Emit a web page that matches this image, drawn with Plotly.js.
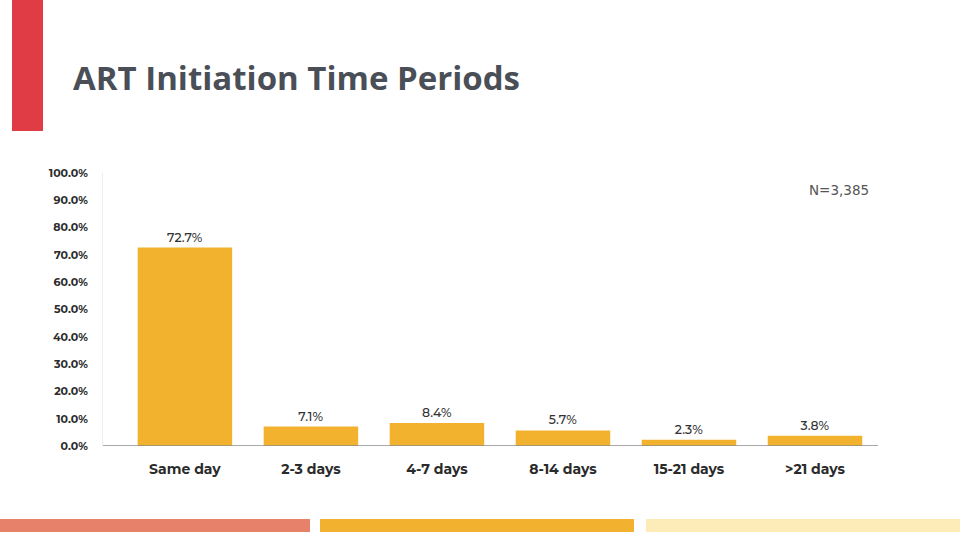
<!DOCTYPE html>
<html>
<head>
<meta charset="utf-8">
<script src="https://cdn.plot.ly/plotly-3.0.1.min.js"></script>
<style>html,body{margin:0;padding:0;background:#fff;}#chart{width:960px;height:540px;}</style>
</head>
<body>
<div id="chart"></div>
<script>
const categories = ["Same day", "2-3 days", "4-7 days", "8-14 days", "15-21 days", ">21 days"];
const percentages = [72.7, 7.1, 8.4, 5.7, 2.3, 3.8];
const valueLabels = ["72.7%", "7.1%", "8.4%", "5.7%", "2.3%", "3.8%"];
const yTickValues = [0, 10, 20, 30, 40, 50, 60, 70, 80, 90, 100];

const W = 960, H = 540;
const L = 103, R = 82, T = 173, B = 94;
const pw = W - L - R, ph = H - T - B;
const px = x => (x - L) / pw;
const py = y => (H - B - y) / ph;

function rect(x0, y0, x1, y1, color) {
  return {type: 'rect', xref: 'paper', yref: 'paper', x0: px(x0), x1: px(x1), y0: py(y1), y1: py(y0),
          fillcolor: color, line: {width: 0}, layer: 'below'};
}

const trace = {
  type: 'bar',
  x: categories,
  y: percentages,
  text: valueLabels,
  textposition: 'outside',
  texttemplate: '%{text}',
  textfont: {family: 'Montserrat, "Open Sans", sans-serif', size: 12.5, color: '#333333', weight: 500},
  marker: {color: '#f2b22e'},
  width: 0.75,
  cliponaxis: false,
  hoverinfo: 'skip'
};

const layout = {
  width: W, height: H,
  margin: {l: L, r: R, t: T, b: B, pad: 0},
  paper_bgcolor: '#ffffff',
  plot_bgcolor: '#ffffff',
  showlegend: false,
  title: {
    text: 'ART Initiation Time Periods',
    font: {family: 'Open Sans, sans-serif', size: 33, color: '#4a4f57', weight: 700},
    xref: 'container', yref: 'container',
    x: 73 / W, xanchor: 'left',
    y: 1 - 78 / H, yanchor: 'middle'
  },
  xaxis: {
    type: 'category',
    range: [-0.65, 5.5],
    showgrid: false,
    zeroline: false,
    showline: false,
    ticks: '',
    ticklabelstandoff: 13,
    tickfont: {family: 'Montserrat, "Open Sans", sans-serif', size: 14, color: '#2b2b2b', weight: 700},
    fixedrange: true
  },
  yaxis: {
    range: [0, 100],
    tickvals: yTickValues,
    ticktext: yTickValues.map(v => v.toFixed(1) + '%'),
    showgrid: false,
    zeroline: false,
    showline: true,
    linecolor: '#eeeeee',
    linewidth: 1,
    ticks: '',
    ticklabelstandoff: 12,
    tickfont: {family: 'Montserrat, "Open Sans", sans-serif', size: 11, color: '#2b2b2b', weight: 700},
    fixedrange: true
  },
  shapes: [
    {type: 'line', xref: 'paper', yref: 'y', x0: 0, x1: 1, y0: 0, y1: 0, line: {color: '#8c8c8c', width: 1.5}},
    rect(12, 0, 43, 131, '#e03c45'),
    rect(0, 519, 310, 532, '#e8816a'),
    rect(320, 519, 634, 532, '#f2b22f'),
    rect(646, 519, 960, 532, '#fdebb8')
  ],
  annotations: [
    {xref: 'paper', yref: 'paper', x: px(871), y: py(190), xanchor: 'right', yanchor: 'middle',
     text: 'N=3,385', showarrow: false,
     font: {family: '"DejaVu Sans", sans-serif', size: 13.5, color: '#555555'}}
  ]
};

Plotly.newPlot('chart', [trace], layout, {displayModeBar: false, staticPlot: true});
</script>
</body>
</html>
